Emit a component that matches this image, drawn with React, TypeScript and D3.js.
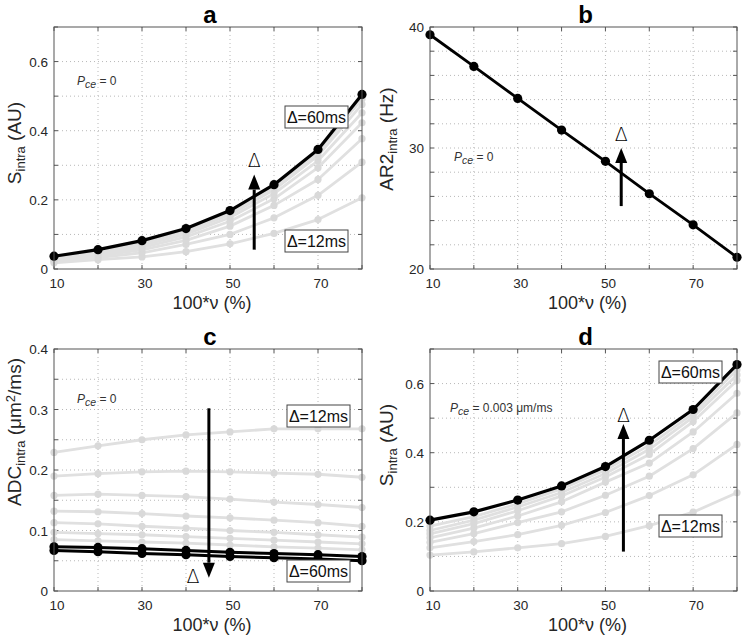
import React from 'react';
import * as d3 from 'd3';

// ---------- data ----------
const nu = [10, 20, 30, 40, 50, 60, 70, 80];
const xTickLabels = [10, 30, 50, 70];
const xTickValues = [10, 20, 30, 40, 50, 60, 70, 80];

// panel a: S_intra (AU), Pce = 0, Δ = 12ms (lowest) ... Δ = 60ms (black)
const aD12 = [0.018, 0.027, 0.035, 0.050, 0.073, 0.103, 0.143, 0.206];
const aD2 = [0.022, 0.033, 0.047, 0.071, 0.100, 0.148, 0.213, 0.309];
const aD3 = [0.026, 0.038, 0.055, 0.083, 0.124, 0.184, 0.259, 0.377];
const aD4 = [0.029, 0.043, 0.062, 0.093, 0.138, 0.203, 0.293, 0.423];
const aD5 = [0.031, 0.047, 0.068, 0.101, 0.149, 0.218, 0.313, 0.452];
const aD6 = [0.033, 0.051, 0.074, 0.108, 0.157, 0.229, 0.328, 0.476];
const aD7 = [0.035, 0.053, 0.078, 0.113, 0.163, 0.237, 0.338, 0.492];
const aD60 = [0.037, 0.056, 0.082, 0.117, 0.169, 0.244, 0.346, 0.505];
const aYTicks = [0, 0.2, 0.4, 0.6];

// panel b: AR2_intra (Hz)
const bAR2 = [39.36, 36.74, 34.1, 31.48, 28.9, 26.22, 23.65, 20.97];
const bYTicks = [20, 30, 40];

// panel c: ADC_intra (µm2/ms), Δ = 12ms (top) ... Δ = 60ms (bottom)
const cD12 = [0.229, 0.240, 0.250, 0.258, 0.263, 0.268, 0.268, 0.268];
const cD2 = [0.190, 0.194, 0.197, 0.198, 0.197, 0.195, 0.193, 0.188];
const cD3 = [0.158, 0.160, 0.158, 0.156, 0.152, 0.147, 0.143, 0.138];
const cD4 = [0.132, 0.131, 0.128, 0.124, 0.121, 0.117, 0.113, 0.107];
const cD5 = [0.113, 0.111, 0.107, 0.104, 0.100, 0.097, 0.093, 0.089];
const cD6 = [0.097, 0.095, 0.093, 0.090, 0.087, 0.084, 0.081, 0.078];
const cD7 = [0.085, 0.083, 0.081, 0.079, 0.076, 0.073, 0.071, 0.068];
const cD8 = [0.073, 0.072, 0.070, 0.067, 0.064, 0.062, 0.060, 0.057];
const cD60 = [0.067, 0.065, 0.062, 0.060, 0.057, 0.055, 0.053, 0.050];
const cYTicks = [0, 0.1, 0.2, 0.3, 0.4];

// panel d: S_intra (AU), Pce = 0.003 µm/ms
const dD12 = [0.104, 0.113, 0.125, 0.137, 0.158, 0.189, 0.228, 0.284];
const dD2 = [0.125, 0.143, 0.163, 0.190, 0.227, 0.276, 0.336, 0.424];
const dD3 = [0.141, 0.166, 0.198, 0.229, 0.277, 0.332, 0.412, 0.515];
const dD4 = [0.154, 0.182, 0.217, 0.258, 0.315, 0.370, 0.460, 0.572];
const dD5 = [0.165, 0.195, 0.232, 0.275, 0.330, 0.395, 0.490, 0.609];
const dD6 = [0.175, 0.205, 0.243, 0.285, 0.340, 0.410, 0.503, 0.625];
const dD7 = [0.188, 0.215, 0.252, 0.295, 0.350, 0.422, 0.513, 0.640];
const dD60 = [0.205, 0.229, 0.263, 0.304, 0.360, 0.436, 0.525, 0.655];
const dYTicks = [0, 0.2, 0.4, 0.6];

// ---------- style ----------
const FONT = "'Liberation Sans', Arial, Helvetica, sans-serif";
const GREY = '#e0e0e0';
const GREY_MK = '#d9d9d9';
const INK = '#262626';

type Arrow = { x: number; from: number; to: number; lx: number; ly: number };
type Box = { x: number; y: number; w: number; h: number; label: string };

type PanelCfg = {
  title: string;
  x0: number; x1: number; y0: number; y1: number;
  yDomain: [number, number];
  yStep: number;
  yTicks: number[];
  yFmt: (v: number) => string;
  grey: number[][];
  black: number[][];
  blackWidth: number;
  ylabel: React.ReactNode;
  ylabelX: number; ylabelY: number;
  pce: React.ReactNode; pceX: number; pceY: number;
  arrow: Arrow;
  boxes: Box[];
};

function Panel({ cfg }: { cfg: PanelCfg }) {
  const x = d3.scaleLinear().domain([10, 80]).range([cfg.x0, cfg.x1]);
  const y = d3.scaleLinear().domain(cfg.yDomain).range([cfg.y1, cfg.y0]);
  const line = d3.line<number>().x((_, i) => x(nu[i])).y((v) => y(v));
  const yGrid = d3.range(cfg.yDomain[0], cfg.yDomain[1] + cfg.yStep / 2, cfg.yStep);
  const a = cfg.arrow;
  const ay0 = y(a.from), ay1 = y(a.to);
  const dir = ay1 < ay0 ? 1 : -1; // 1: arrow pointing up
  const headLen = 15, headHalf = 6;
  const ax = x(a.x);
  return (
    <g>
      {/* grid */}
      {xTickValues.filter((v) => v > 10 && v < 80).map((v) => (
        <line key={'gx' + v} x1={x(v)} x2={x(v)} y1={cfg.y0} y2={cfg.y1}
          stroke="#b8b8b8" strokeWidth={1} strokeDasharray="1,3" />
      ))}
      {yGrid.filter((v) => v > cfg.yDomain[0] + 1e-9 && v < cfg.yDomain[1] - 1e-9).map((v) => (
        <line key={'gy' + v} x1={cfg.x0} x2={cfg.x1} y1={y(v)} y2={y(v)}
          stroke="#b8b8b8" strokeWidth={1} strokeDasharray="1,3" />
      ))}
      {/* ticks on all sides */}
      {xTickValues.map((v) => (
        <g key={'tx' + v}>
          <line x1={x(v)} x2={x(v)} y1={cfg.y1} y2={cfg.y1 - 4} stroke="#555" />
          <line x1={x(v)} x2={x(v)} y1={cfg.y0} y2={cfg.y0 + 4} stroke="#555" />
        </g>
      ))}
      {yGrid.map((v) => (
        <g key={'ty' + v}>
          <line x1={cfg.x0} x2={cfg.x0 + 4} y1={y(v)} y2={y(v)} stroke="#555" />
          <line x1={cfg.x1} x2={cfg.x1 - 4} y1={y(v)} y2={y(v)} stroke="#555" />
        </g>
      ))}
      {/* grey series */}
      {cfg.grey.map((s, i) => (
        <g key={'g' + i}>
          <path d={line(s) || ''} fill="none" stroke={GREY} strokeWidth={2.8} strokeLinejoin="round" />
          {s.map((v, j) => (
            <circle key={j} cx={x(nu[j])} cy={y(v)} r={3.6} fill={GREY_MK} />
          ))}
        </g>
      ))}
      {/* black series */}
      {cfg.black.map((s, i) => (
        <g key={'b' + i}>
          <path d={line(s) || ''} fill="none" stroke="#000" strokeWidth={cfg.blackWidth} strokeLinejoin="round" />
          {s.map((v, j) => (
            <circle key={j} cx={x(nu[j])} cy={y(v)} r={4.6} fill="#000" />
          ))}
        </g>
      ))}
      {/* box */}
      <rect x={cfg.x0} y={cfg.y0} width={cfg.x1 - cfg.x0} height={cfg.y1 - cfg.y0}
        fill="none" stroke="#555" strokeWidth={1} />
      {/* tick labels */}
      {xTickLabels.map((v) => (
        <text key={'xl' + v} x={x(v) + 3} y={cfg.y1 + 19} textAnchor="middle"
          fontSize={13.5} fill={INK} fontFamily={FONT}>{v}</text>
      ))}
      {cfg.yTicks.map((v) => (
        <text key={'yl' + v} x={cfg.x0 - 6} y={y(v) + 5} textAnchor="end"
          fontSize={13.5} fill={INK} fontFamily={FONT}>{cfg.yFmt(v)}</text>
      ))}
      {/* axis labels */}
      <text x={(cfg.x0 + cfg.x1) / 2 + 4} y={cfg.y1 + 40} textAnchor="middle"
        fontSize={18} fill={INK} fontFamily={FONT}>100*ν (%)</text>
      <text transform={`translate(${cfg.ylabelX},${cfg.ylabelY}) rotate(-90)`} textAnchor="middle"
        fontSize={19} fill={INK} fontFamily={FONT}>{cfg.ylabel}</text>
      {/* title */}
      <text x={(cfg.x0 + cfg.x1) / 2 + 2} y={cfg.y0 - 4} textAnchor="middle"
        fontSize={24} fontWeight="bold" fill="#000" fontFamily={FONT}>{cfg.title}</text>
      {/* Pce annotation */}
      <text x={cfg.pceX} y={cfg.pceY} fontSize={12} fill="#333" fontFamily={FONT}>{cfg.pce}</text>
      {/* arrow */}
      <line x1={ax} x2={ax} y1={ay0} y2={ay1 + dir * headLen} stroke="#000" strokeWidth={3} />
      <polygon
        points={`${ax},${ay1} ${ax - headHalf},${ay1 + dir * headLen} ${ax + headHalf},${ay1 + dir * headLen}`}
        fill="#000" />
      <text x={x(a.lx)} y={y(a.ly)} textAnchor="middle" fontSize={19} fill="#000"
        fontFamily="'DejaVu Sans', 'Liberation Sans', sans-serif" fontWeight={200}>Δ</text>
      {/* Δ boxes */}
      {cfg.boxes.map((b, i) => (
        <g key={'bx' + i}>
          <rect x={b.x} y={b.y} width={b.w} height={b.h} fill="#fff" stroke="#444" strokeWidth={1} />
          <text x={b.x + b.w / 2} y={b.y + b.h / 2 + 5.5} textAnchor="middle" fontSize={16}
            fill="#111" fontFamily={FONT}>{b.label}</text>
        </g>
      ))}
    </g>
  );
}

const subDy = 4;
const pceSpan = (rest: string) => (
  <>
    <tspan fontStyle="italic">P</tspan>
    <tspan fontStyle="italic" fontSize={10.5} dy={3}>ce</tspan>
    <tspan dy={-3}>{rest}</tspan>
  </>
);

const LEFT = { x0: 54, x1: 362 };
const RIGHT = { x0: 430, x1: 737 };
const TOP = { y0: 27, y1: 269 };
const BOTTOM = { y0: 349, y1: 591 };

const fmt1 = (v: number) => (v === 0 ? '0' : d3.format('.1f')(v));

const panels: PanelCfg[] = [
  {
    title: 'a', ...LEFT, ...TOP,
    yDomain: [0, 0.7], yStep: 0.1, yTicks: aYTicks, yFmt: fmt1,
    grey: [aD12, aD2, aD3, aD4, aD5, aD6, aD7], black: [aD60], blackWidth: 3.2,
    ylabel: (<>S<tspan fontSize={13} dy={subDy}>intra</tspan><tspan dy={-subDy}> (AU)</tspan></>),
    ylabelX: 21, ylabelY: 143,
    pce: pceSpan(' = 0'), pceX: 77, pceY: 85,
    arrow: { x: 55.5, from: 0.056, to: 0.273, lx: 55.5, ly: 0.296 },
    boxes: [
      { x: 285, y: 106, w: 63, h: 22, label: 'Δ=60ms' },
      { x: 285, y: 230, w: 63, h: 22, label: 'Δ=12ms' },
    ],
  },
  {
    title: 'b', ...RIGHT, ...TOP,
    yDomain: [20, 40], yStep: 2, yTicks: bYTicks, yFmt: (v) => String(v),
    grey: [], black: [bAR2], blackWidth: 2.8,
    ylabel: (<>AR2<tspan fontSize={13} dy={subDy}>intra</tspan><tspan dy={-subDy}> (Hz)</tspan></>),
    ylabelX: 393, ylabelY: 139,
    pce: pceSpan(' = 0'), pceX: 454, pceY: 161,
    arrow: { x: 53.6, from: 25.2, to: 30.0, lx: 53.6, ly: 30.55 },
    boxes: [],
  },
  {
    title: 'c', ...LEFT, ...BOTTOM,
    yDomain: [0, 0.4], yStep: 0.05, yTicks: cYTicks, yFmt: fmt1,
    grey: [cD12, cD2, cD3, cD4, cD5, cD6, cD7], black: [cD8, cD60], blackWidth: 3,
    ylabel: (<>ADC<tspan fontSize={13} dy={subDy}>intra</tspan><tspan dy={-subDy}> (μm</tspan><tspan fontSize={13} dy={-6}>2</tspan><tspan dy={6}>/ms)</tspan></>),
    ylabelX: 21, ylabelY: 432,
    pce: pceSpan(' = 0'), pceX: 77, pceY: 403,
    arrow: { x: 45.2, from: 0.302, to: 0.022, lx: 41.6, ly: 0.013 },
    boxes: [
      { x: 287, y: 405, w: 63, h: 22, label: 'Δ=12ms' },
      { x: 287, y: 560, w: 63, h: 22, label: 'Δ=60ms' },
    ],
  },
  {
    title: 'd', ...RIGHT, ...BOTTOM,
    yDomain: [0, 0.7], yStep: 0.1, yTicks: dYTicks, yFmt: fmt1,
    grey: [dD12, dD2, dD3, dD4, dD5, dD6, dD7], black: [dD60], blackWidth: 3.2,
    ylabel: (<>S<tspan fontSize={13} dy={subDy}>intra</tspan><tspan dy={-subDy}> (AU)</tspan></>),
    ylabelX: 393, ylabelY: 445,
    pce: pceSpan(' = 0.003 μm/ms'), pceX: 450, pceY: 412,
    arrow: { x: 54.1, from: 0.114, to: 0.483, lx: 54.1, ly: 0.489 },
    boxes: [
      { x: 659, y: 361, w: 63, h: 22, label: 'Δ=60ms' },
      { x: 659, y: 515, w: 63, h: 22, label: 'Δ=12ms' },
    ],
  },
];

export default function App() {
  return (
    <svg width={742} height={641} viewBox="0 0 742 641"
      style={{ position: 'absolute', left: 0, top: 0, display: 'block', background: '#fff' }}>
      <rect x={0} y={0} width={742} height={641} fill="#fff" />
      {panels.map((p) => (
        <Panel key={p.title} cfg={p} />
      ))}
    </svg>
  );
}
